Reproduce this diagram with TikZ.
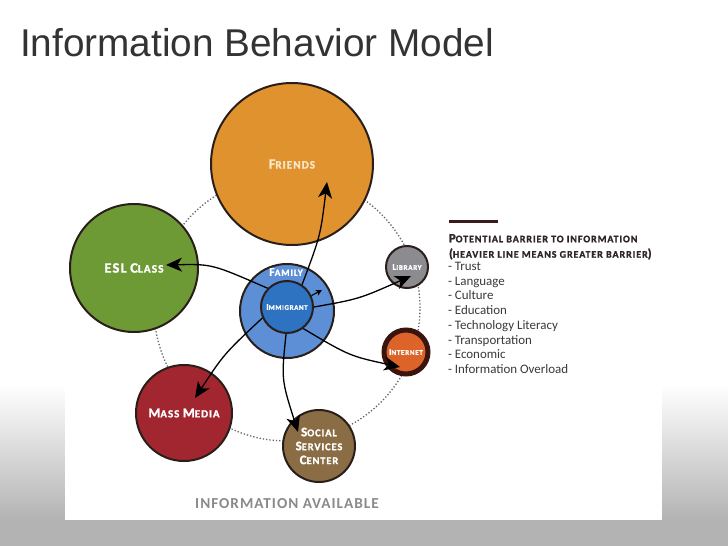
\documentclass[tikz,border=0pt]{standalone}
\usepackage{fontspec}
\usepackage{graphicx}
\setmainfont{Carlito}
\newfontfamily\titlefont{Liberation Sans}
\newfontfamily\labfont[LetterSpace=9, BoldFeatures={FakeBold=1.3}]{Carlito}
\newfontfamily\availfont[LetterSpace=6.5]{Carlito}
\usetikzlibrary{arrows.meta}
\definecolor{bggray}{HTML}{B3B3B3}
\definecolor{titlegray}{HTML}{333333}
\definecolor{border}{HTML}{2A1E1A}
\definecolor{ringgray}{HTML}{666666}
\definecolor{friends}{HTML}{E0922F}
\definecolor{friendtxt}{HTML}{F7E7C9}
\definecolor{esl}{HTML}{6E9A35}
\definecolor{family}{HTML}{5C8FD5}
\definecolor{immig}{HTML}{2E73C2}
\definecolor{library}{HTML}{8C8C90}
\definecolor{internet}{HTML}{DD6428}
\definecolor{internetb}{HTML}{3A1510}
\definecolor{massmedia}{HTML}{A22630}
\definecolor{social}{HTML}{8A6D45}
\definecolor{legendline}{HTML}{3A1A1A}
\definecolor{legendhead}{HTML}{2D2424}
\definecolor{legendtxt}{HTML}{3A3A3A}
\definecolor{availgray}{HTML}{8A8A8A}
\newcommand\Cp[1]{\scalebox{1.25}{#1}}
\newcommand\lab[1]{\labfont\bfseries\fontsize{#1}{#1}\selectfont}
\begin{document}
\begin{tikzpicture}[x=1bp,y=-1bp,
  bub/.style={circle, draw=border, line width=2bp, inner sep=0pt, align=center, text=white},
  con/.style={line width=1.3bp, draw=black, -{Stealth[length=16bp,width=14bp,inset=4.5bp]}},
  smallcon/.style={line width=1.1bp, draw=black, -{Stealth[length=6bp,width=6bp,inset=1.5bp]}},
  plain/.style={inner sep=0pt, outer sep=0pt},
  item/.style={plain, anchor=base west, text=legendtxt, font=\fontsize{13}{13}\selectfont},
]
\useasboundingbox (0,0) rectangle (728,546);
% background
\fill[white] (0,0) rectangle (728,546);
\shade[top color=white, bottom color=bggray] (0,385) rectangle (728,520);
\fill[bggray] (0,520) rectangle (728,546);
\fill[white] (65,370) rectangle (662,520);
% title
\node[plain, anchor=base west, text=titlegray, font=\titlefont\fontsize{38.9}{40}\selectfont] (title) at (20,57) {Information Behavior Model};
% dotted ring
\node[circle, draw=ringgray, dotted, line width=1.3bp, minimum size=266bp, inner sep=0pt] (ring) at (287,308) {};
% circles
\node[bub, fill=friends, minimum size=162bp, text=friendtxt, font=\lab{11.3}] (friends) at (292,164) {\Cp{F}RIENDS};
\node[bub, fill=esl, minimum size=128bp, font=\lab{11.5}] (esl) at (134,268) {\Cp{ESL} \Cp{C}LASS};
\node[bub, fill=library, minimum size=42bp, font=\lab{7.2}] (lib) at (407,267) {\Cp{L}IBRARY};
\node[bub, fill=internet, draw=internetb, line width=5bp, minimum size=44bp, font=\lab{7.2}] (net) at (406,352) {\Cp{I}NTERNET};
\node[bub, fill=massmedia, minimum size=96bp, font=\lab{11}] (mass) at (184,413) {\Cp{M}ASS \Cp{M}EDIA};
\node[bub, fill=social, minimum size=72bp, font=\labfont\bfseries\fontsize{10.4}{14}\selectfont] (soc) at (319,446) {\Cp{S}OCIAL\\\Cp{S}ERVICES\\\Cp{C}ENTER};
\node[bub, fill=family, minimum size=94bp] (fam) at (287,311) {};
\node[plain, text=white, font=\lab{9.5}] (famlab) at (286,272) {\Cp{F}AMILY};
\node[bub, fill=immig, minimum size=52bp, font=\lab{7}] (imm) at (287,307) {\Cp{I}MMIGRANT};
% connectors
\coordinate (tF) at (327,182);
\coordinate (tS) at (322,290);
\coordinate (tE) at (166,265);
\coordinate (tL) at (411,276);
\coordinate (tN) at (400,367);
\coordinate (tC) at (298,432);
\coordinate (tM) at (195,398);
\draw[con] (imm.56) .. controls (320.5,235.5) .. (tF);
\draw[smallcon] (imm.25) -- (tS);
\draw[con] (imm.136) .. controls (212,264) .. (tE);
\draw[con] (imm.0) .. controls (359,299) .. (tL);
\draw[con] (imm.-53) .. controls (349.5,356) .. (tN);
\draw[con] (imm.-92) .. controls (281.3,379.3) .. (tC);
\draw[con] (imm.-156) .. controls (224,354) .. (tM);
% legend
\draw[legendline, line width=3bp] (449,222) coordinate (ll) -- (498,222) coordinate (lr);
\node[plain, anchor=base west, text=legendhead, font=\lab{10.1}] (head1) at (449,242.3) {\Cp{P}OTENTIAL BARRIER TO INFORMATION};
\node[plain, anchor=base west, text=legendhead, font=\lab{10.1}] (head2) at (449,257.7) {\Cp{(}HEAVIER LINE MEANS GREATER BARRIER\Cp{)}};
\node[item] (i1) at (448,270.5) {- Trust};
\node[item] (i2) at (448,285.2) {- Language};
\node[item] (i3) at (448,299.9) {- Culture};
\node[item] (i4) at (448,314.6) {- Education};
\node[item] (i5) at (448,329.3) {- Technology Literacy};
\node[item] (i6) at (448,344.0) {- Transportation};
\node[item] (i7) at (448,358.7) {- Economic};
\node[item] (i8) at (448,373.4) {- Information Overload};
% bottom caption
\node[plain, anchor=base, text=availgray, font=\availfont\bfseries\fontsize{15.3}{15}\selectfont] (avail) at (287,508) {INFORMATION AVAILABLE};
\end{tikzpicture}
\end{document}
